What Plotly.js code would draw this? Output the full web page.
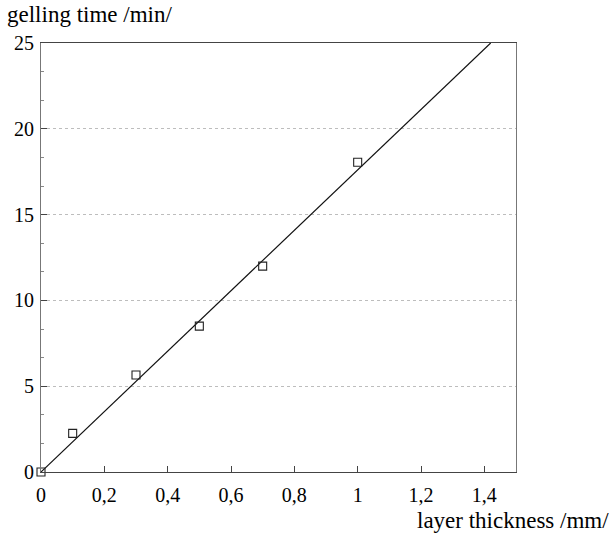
<!DOCTYPE html>
<html>
<head>
<meta charset="utf-8">
<script src="https://cdn.plot.ly/plotly-3.0.1.min.js"></script>
<style>html,body{margin:0;padding:0;background:#fff;}</style>
</head>
<body>
<div id="chart" style="width:613px;height:548px;"></div>
<script>
// measured points
const thickness = [0, 0.1, 0.3, 0.5, 0.7, 1.0];
const gellingTime = [0, 2.25, 5.65, 8.5, 12.0, 18.05];
// regression line endpoints
const fitX = [0, 1.42];
const fitY = [0, 25];
const xTitle = 'layer thickness /mm/';
const yTitle = 'gelling time /min/';

const serif = "'Liberation Serif', 'Times New Roman', Times, serif";

const traces = [
  {
    x: fitX, y: fitY, type: 'scatter', mode: 'lines',
    line: {color: '#111', width: 1.2}, hoverinfo: 'skip'
  },
  {
    x: thickness, y: gellingTime, type: 'scatter', mode: 'markers',
    marker: {symbol: 'square-open', size: 8, color: '#222', line: {width: 1.1, color: '#222'}},
    cliponaxis: false
  }
];

const layout = {
  width: 613, height: 548,
  margin: {l: 41, r: 97, t: 43, b: 76, pad: 0},
  paper_bgcolor: '#fff', plot_bgcolor: '#fff',
  showlegend: false,
  separators: ',.',
  font: {family: serif, size: 20, color: '#000'},
  xaxis: {
    range: [0, 1.5], dtick: 0.2, tick0: 0,
    ticks: 'inside', ticklen: 6, tickcolor: '#444', tickwidth: 1,
    showgrid: false, zeroline: false,
    showline: true, linecolor: '#444', linewidth: 1, mirror: true,
    tickfont: {family: serif, size: 20, color: '#000'},
    ticklabelstandoff: 5
  },
  yaxis: {
    range: [0, 25], dtick: 5, tick0: 0,
    ticks: 'inside', ticklen: 6, tickcolor: '#444', tickwidth: 1,
    minor: {dtick: 5/3, ticks: 'inside', ticklen: 3, tickcolor: '#888', showgrid: false},
    showgrid: true, gridcolor: '#bdbdbd', griddash: 'dot', gridwidth: 1,
    zeroline: false,
    showline: true, linecolor: '#777', linewidth: 1, mirror: true,
    tickfont: {family: serif, size: 20, color: '#000'},
    ticklabelstandoff: 2
  },
  annotations: [
    {text: yTitle, xref: 'paper', yref: 'paper', x: -0.075, y: 1.1,
     xanchor: 'left', yanchor: 'top', showarrow: false,
     font: {family: serif, size: 23, color: '#000'}},
    {text: xTitle, xref: 'paper', yref: 'paper', x: 1.2, y: -0.08,
     xanchor: 'right', yanchor: 'top', showarrow: false,
     font: {family: serif, size: 23, color: '#000'}}
  ]
};

Plotly.newPlot('chart', traces, layout, {displayModeBar: false, staticPlot: true});
</script>
</body>
</html>
